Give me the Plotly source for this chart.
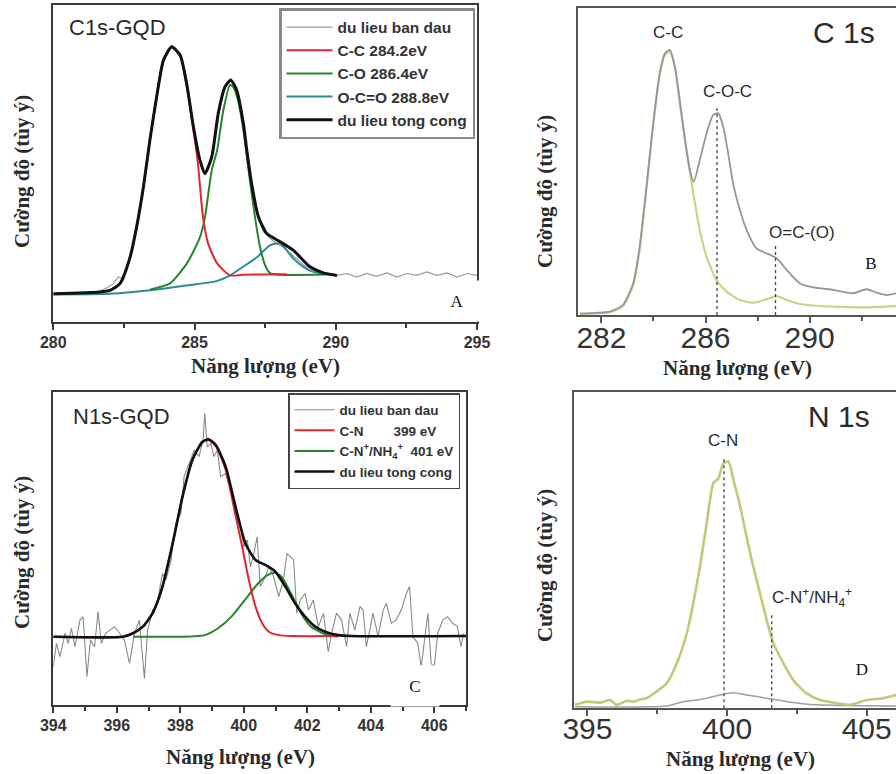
import plotly.graph_objects as go

# ---------------- DATA ----------------
# Panel A : C1s-GQD (arbitrary intensity 0-100)
a_raw_x = [280.00, 281.30, 281.65, 281.89, 282.13, 282.30, 282.48, 282.72, 282.95, 283.19, 283.42, 283.66, 283.90, 284.19, 284.49, 284.72, 284.96, 285.19, 285.37, 285.61, 285.84, 286.08, 286.28, 286.49, 286.73, 286.97, 287.20, 287.44, 287.79, 288.15, 288.50, 288.85, 289.33, 289.68, 290.04, 290.39, 290.75, 291.10, 291.45, 291.81, 292.16, 292.52, 292.87, 293.23, 293.58, 293.94, 294.29, 294.65, 295.00]
a_raw_y = [8.9, 8.9, 9.8, 10.7, 12.1, 14.2, 13.7, 20.5, 30.5, 43.0, 57.0, 71.5, 82.0, 87.2, 84.5, 75.0, 61.0, 51.5, 47.2, 52.5, 65.5, 74.6, 76.8, 73.5, 62.6, 46.5, 35.5, 28.5, 25.5, 23.5, 20.8, 18.0, 16.0, 15.2, 14.7, 15.3, 14.2, 15.3, 14.4, 15.5, 14.2, 15.3, 14.7, 15.8, 14.7, 15.5, 14.2, 15.3, 14.7]

a_cc_x = [282.01, 282.36, 282.72, 282.95, 283.19, 283.42, 283.66, 283.90, 284.19, 284.49, 284.72, 284.96, 285.12, 285.30, 285.48, 285.80, 286.26, 286.70, 287.50, 288.26]
a_cc_y = [10.0, 12.1, 20.5, 30.0, 42.6, 57.4, 71.1, 82.6, 86.6, 83.8, 74.5, 60.5, 50.0, 33.0, 24.8, 18.5, 14.7, 14.9, 15.0, 15.1]

a_co_x = [283.42, 284.13, 284.73, 285.19, 285.37, 285.61, 285.80, 286.02, 286.26, 286.38, 286.55, 286.73, 286.97, 287.14, 287.32, 287.50, 287.67, 288.03, 289.92]
a_co_y = [10.2, 12.2, 18.5, 26.7, 33.1, 47.9, 54.2, 66.8, 74.8, 74.0, 69.5, 60.5, 44.0, 33.1, 23.6, 17.9, 15.4, 14.9, 15.1]

a_oco_x = [280.00, 282.01, 283.42, 284.60, 285.78, 286.26, 286.73, 287.21, 287.67, 288.03, 288.50, 288.85, 289.21, 289.68, 290.04]
a_oco_y = [8.7, 8.9, 10.0, 11.4, 12.9, 14.7, 17.5, 20.4, 24.2, 24.8, 20.0, 17.4, 15.8, 15.1, 14.7]

a_sum_x = [280.00, 281.65, 282.01, 282.36, 282.72, 282.95, 283.19, 283.42, 283.66, 283.90, 284.19, 284.49, 284.72, 284.96, 285.19, 285.37, 285.61, 285.84, 286.08, 286.28, 286.49, 286.73, 286.85, 287.02, 287.26, 287.56, 288.03, 288.50, 289.09, 289.56, 290.04]
a_sum_y = [8.9, 9.5, 10.0, 12.1, 20.5, 30.0, 42.6, 57.4, 71.1, 82.6, 86.8, 84.2, 75.3, 61.6, 51.1, 46.8, 52.1, 65.8, 74.2, 76.3, 73.2, 62.6, 54.2, 43.7, 33.2, 27.9, 25.3, 22.6, 17.4, 15.5, 14.7]

a_ticks = [280, 285, 290, 295]

# Panel B : C 1s
b_gray_x = [281.17, 282.32, 282.83, 283.22, 283.47, 283.73, 283.99, 284.24, 284.44, 284.63, 284.82, 285.01, 285.21, 285.40, 285.55, 285.78, 286.04, 286.29, 286.49, 286.68, 286.87, 287.06, 287.32, 287.58, 287.96, 288.35, 288.73, 289.12, 289.63, 290.14, 290.91, 291.68, 292.19, 292.58, 292.96, 293.35]
b_gray_y = [0.5, 1.1, 3.3, 10.3, 22.3, 41.8, 62.5, 78.8, 85.3, 86.4, 81.0, 70.1, 57.1, 47.3, 43.5, 50.5, 59.2, 65.2, 65.8, 61.4, 52.7, 42.9, 34.2, 27.7, 21.7, 20.1, 18.5, 14.7, 10.3, 9.0, 8.2, 7.1, 8.4, 7.3, 6.5, 7.1]
b_green_x = [281.17, 282.32, 282.83, 283.22, 283.47, 283.73, 283.99, 284.24, 284.44, 284.63, 284.82, 285.01, 285.27, 285.53, 285.78, 286.04, 286.42, 286.81, 287.32, 287.83, 288.35, 288.73, 289.12, 289.63, 290.91, 292.19, 293.35]
b_green_y = [0.3, 0.9, 2.9, 9.8, 21.4, 41.0, 62.0, 78.3, 84.8, 85.9, 81.0, 69.0, 53.8, 39.7, 27.7, 19.0, 11.4, 7.6, 4.9, 4.0, 5.1, 6.2, 4.9, 3.6, 2.7, 2.5, 2.9]
b_marker_x = [286.44, 288.69]
b_marker_top = [68.5, 22.8]
b_ticks = [282, 286, 290]

# Panel C : N1s-GQD
c_raw_x = [394.00, 394.10, 394.21, 394.37, 394.47, 394.57, 394.68, 394.84, 394.94, 395.06, 395.17, 395.30, 395.41, 395.51, 395.65, 395.77, 395.93, 396.09, 396.24, 396.40, 396.56, 396.71, 396.87, 396.97, 397.13, 397.29, 397.44, 397.55, 397.71, 397.86, 398.02, 398.12, 398.28, 398.44, 398.59, 398.72, 398.77, 398.85, 398.96, 399.06, 399.17, 399.27, 399.43, 399.58, 399.69, 399.79, 399.90, 400.00, 400.11, 400.21, 400.32, 400.42, 400.52, 400.63, 400.79, 400.94, 401.10, 401.25, 401.36, 401.57, 401.67, 401.78, 401.93, 402.04, 402.19, 402.35, 402.51, 402.66, 402.77, 402.92, 403.08, 403.24, 403.34, 403.50, 403.66, 403.76, 403.86, 403.97, 404.07, 404.23, 404.39, 404.49, 404.65, 404.80, 404.96, 405.12, 405.22, 405.33, 405.48, 405.59, 405.69, 405.80, 405.90, 406.00, 406.11, 406.27, 406.42, 406.58, 406.73, 406.84, 406.92]
c_raw_y = [12.2, 19.7, 15.4, 22.9, 19.7, 24.5, 18.6, 27.1, 28.2, 9.0, 20.7, 18.6, 29.8, 19.7, 22.9, 23.9, 25.0, 22.9, 20.7, 13.3, 22.9, 27.1, 8.5, 23.9, 30.3, 33.5, 42.0, 39.9, 46.3, 58.0, 61.2, 72.9, 77.1, 81.4, 79.3, 84.6, 93.1, 82.4, 83.5, 79.3, 81.4, 72.9, 73.9, 68.6, 65.4, 59.0, 56.9, 50.5, 52.7, 44.1, 48.4, 53.7, 37.8, 39.9, 44.1, 41.0, 34.6, 39.9, 48.4, 46.3, 29.3, 33.5, 35.6, 30.3, 33.5, 25.0, 29.3, 17.0, 22.9, 29.3, 27.1, 18.6, 29.3, 23.9, 31.4, 30.3, 18.6, 23.9, 29.3, 21.8, 30.3, 32.4, 26.1, 27.1, 30.3, 35.6, 37.8, 21.8, 19.7, 12.2, 20.7, 29.3, 13.3, 12.2, 22.9, 27.1, 28.2, 26.1, 25.0, 18.6, 22.9]
c_cn_x = [394.00, 396.19, 396.51, 396.82, 397.13, 397.44, 397.76, 398.07, 398.38, 398.70, 398.89, 399.12, 399.43, 399.74, 399.95, 400.16, 400.37, 400.58, 400.79, 401.10, 401.50, 403.00]
c_cn_y = [21.8, 21.8, 22.9, 25.0, 29.3, 37.8, 51.6, 66.5, 78.2, 84.0, 84.6, 82.6, 75.0, 60.5, 50.5, 39.9, 31.4, 26.1, 23.4, 22.3, 22.0, 22.0]
c_cnh_x = [396.51, 398.12, 398.77, 399.19, 399.61, 400.03, 400.45, 400.76, 400.97, 401.18, 401.49, 401.80, 402.12, 402.53, 402.95]
c_cnh_y = [21.8, 21.8, 22.3, 24.5, 28.2, 33.5, 38.8, 41.5, 42.2, 41.0, 35.6, 29.3, 25.0, 22.7, 21.8]
c_sum_x = [394.00, 396.19, 396.51, 396.82, 397.13, 397.44, 397.76, 398.07, 398.38, 398.70, 398.89, 399.12, 399.43, 399.74, 400.05, 400.37, 400.68, 400.99, 401.31, 401.62, 401.93, 402.25, 402.56, 402.98, 403.39, 407.00]
c_sum_y = [21.8, 21.8, 22.9, 25.0, 29.3, 37.8, 51.6, 66.5, 78.2, 84.0, 84.8, 83.0, 76.1, 63.3, 51.6, 46.3, 44.7, 42.6, 37.8, 32.4, 28.2, 25.0, 23.4, 22.3, 22.0, 22.0]
c_ticks = [394, 396, 398, 400, 402, 404, 406]

# Panel D : N 1s
d_green_x = [394.56, 394.98, 395.45, 395.81, 396.05, 396.41, 396.65, 396.89, 397.12, 397.48, 397.84, 398.20, 398.56, 398.79, 399.03, 399.27, 399.51, 399.69, 399.87, 400.05, 400.23, 400.47, 400.70, 400.94, 401.18, 401.42, 401.66, 402.02, 402.37, 402.85, 403.33, 403.81, 404.40, 405.00, 405.60, 406.07]
d_green_y = [1.1, 2.1, 1.8, 2.6, 1.1, 2.4, 2.1, 2.8, 3.2, 5.3, 7.9, 14.2, 23.7, 33.2, 44.7, 58.4, 71.1, 72.6, 77.4, 77.9, 72.1, 63.7, 54.2, 44.7, 36.3, 27.9, 20.5, 14.2, 8.9, 4.7, 2.6, 1.8, 1.1, 2.6, 3.2, 4.2]
d_gray_x = [394.56, 397.84, 398.44, 399.03, 399.75, 400.23, 400.70, 401.42, 402.14, 403.21, 406.07]
d_gray_y = [0.5, 0.7, 2.1, 2.8, 4.2, 4.9, 4.2, 3.2, 2.1, 1.1, 0.7]
d_marker_x = [399.89, 401.60]
d_marker_top = [79.5, 29.5]
d_ticks = [395, 400, 405]

# ---------------- FIGURE ----------------
W, H = 896, 774
def fx(p):
    return p / W
def fy(p):
    return 1 - p / H

SANS = "Liberation Sans, Arial, sans-serif"
SERIF = "Liberation Serif, Times New Roman, serif"

fig = go.Figure()

def line(x, y, color, width, xa, ya, name=None, legend=None, rank=None, smooth=True, dash=None):
    fig.add_trace(go.Scatter(
        x=x, y=y, mode="lines", xaxis=xa, yaxis=ya,
        line=dict(color=color, width=width, shape="spline" if smooth else "linear",
                  smoothing=0.6 if smooth else None, dash=dash),
        name=name, showlegend=name is not None, legend=legend,
        legendrank=rank if rank is not None else 1000, hoverinfo="skip"))

# A
line(a_raw_x, a_raw_y, "#9a9a9a", 1.2, "x", "y", "du lieu ban dau", "legend", 1, smooth=False)
line(a_oco_x, a_oco_y, "#2e8c98", 2, "x", "y", "O-C=O 288.8eV", "legend", 4)
line(a_co_x, a_co_y, "#23862a", 2, "x", "y", "C-O 286.4eV", "legend", 3)
line(a_cc_x, a_cc_y, "#e3262e", 2, "x", "y", "C-C 284.2eV", "legend", 2)
line(a_sum_x, a_sum_y, "#111111", 3, "x", "y", "du lieu tong cong", "legend", 5)

# B
line(b_green_x, b_green_y, "#c6d588", 2.2, "x2", "y2")
line(b_gray_x, b_gray_y, "#9b939b", 1.8, "x2", "y2")
for xv, top in zip(b_marker_x, b_marker_top):
    line([xv, xv], [0, top], "#444444", 1.3, "x2", "y2", smooth=False, dash="dot")

# C
line(c_raw_x, c_raw_y, "#8a8a8a", 1.1, "x3", "y3", "du lieu ban dau", "legend2", 1, smooth=False)
line(c_cnh_x, c_cnh_y, "#23862a", 2, "x3", "y3", "C-N<sup>+</sup>/NH<sub>4</sub><sup>+</sup>\u00a0 401 eV", "legend2", 3)
line(c_cn_x, c_cn_y, "#e3262e", 2, "x3", "y3", "C-N\u00a0\u00a0\u00a0\u00a0\u00a0\u00a0\u00a0 399 eV", "legend2", 2)
line(c_sum_x, c_sum_y, "#111111", 2.6, "x3", "y3", "du lieu tong cong", "legend2", 4)

# D
line(d_gray_x, d_gray_y, "#a39ca3", 1.5, "x4", "y4")
line(d_green_x, d_green_y, "#bccb78", 2.6, "x4", "y4")
for xv, top in zip(d_marker_x, d_marker_top):
    line([xv, xv], [0, top], "#444444", 1.3, "x4", "y4", smooth=False, dash="dot")

frameA = "#3a3a3a"
frameB = "#555555"

def xax(domain, rng, ticks, minor_dtick, big, color, standoff=0):
    d = dict(domain=domain, range=rng, tickmode="array", tickvals=ticks,
             ticks="outside", ticklen=6, tickwidth=2, tickcolor=color,
             showline=True, linecolor=color, linewidth=2.2, mirror=True,
             showgrid=False, zeroline=False, ticklabelstandoff=standoff,
             minor=dict(tickmode="linear", dtick=minor_dtick, tick0=ticks[0], ticks="outside",
                        ticklen=4, tickwidth=1.5, tickcolor=color, showgrid=False))
    if big:
        d["tickfont"] = dict(family=SANS, size=30, color="#333333")
    else:
        d["tickfont"] = dict(family=SANS, size=16, color="#333333", weight="bold")
    return d

def yax(domain, color, mirror):
    return dict(domain=domain, range=[0, 100], showticklabels=False, ticks="",
                showline=True, linecolor=color, linewidth=2.2, mirror=mirror,
                showgrid=False, zeroline=False, fixedrange=True)

fig.update_layout(
    width=W, height=H, margin=dict(l=0, r=0, t=0, b=0),
    paper_bgcolor="white", plot_bgcolor="white", template="none",
    xaxis=xax([fx(53.3), fx(477)], [280, 295], a_ticks, 2.5, False, frameA, -1),
    yaxis={**yax([fy(322), fy(5)], frameA, True), "anchor": "x"},
    xaxis2={**xax([fx(578), 1.0], [281.10, 293.32], b_ticks, 2, True, frameB, -11), "anchor": "y2"},
    yaxis2={**yax([fy(315), fy(8.3)], frameB, False), "anchor": "x2"},
    xaxis3={**xax([fx(53.3), fx(466)], [394, 407], c_ticks, 1, False, frameA, -1), "anchor": "y3"},
    yaxis3={**yax([fy(705), fy(391.7)], frameA, True), "anchor": "x3"},
    xaxis4={**xax([fx(574), 1.0], [394.52, 406.05], d_ticks, 2.5, True, frameB, -13), "anchor": "y4"},
    yaxis4={**yax([fy(708.3), fy(391.7)], frameB, False), "anchor": "x4"},
    legend=dict(x=fx(279), y=fy(8), xanchor="left", yanchor="top",
                bgcolor="white", bordercolor="#8a8a8a", borderwidth=2.5,
                font=dict(family=SANS, size=15.5, color="#333333", weight="bold"),
                tracegroupgap=0, itemwidth=46),
    legend2=dict(x=fx(288), y=fy(393), xanchor="left", yanchor="top",
                 bgcolor="white", bordercolor="#444444", borderwidth=1.5,
                 font=dict(family=SANS, size=13.5, color="#333333", weight="bold"),
                 tracegroupgap=0, itemwidth=40),
)

ann = []
def text(xp, yp, t, size, family=SANS, bold=False, angle=0, color="#2a2a2a", **kw):
    ann.append(dict(x=fx(xp), y=fy(yp), xref="paper", yref="paper", text=t, showarrow=False,
                    textangle=angle, xanchor="center", yanchor="middle",
                    font=dict(family=family, size=size, color=color, weight="bold" if bold else "normal"), **kw))

# panel titles
text(117, 28, "C1s-GQD", 22)
text(121, 417, "N1s-GQD", 22)
text(844, 33, "C 1s", 30)
text(839, 417, "N 1s", 30)
# peak labels
text(668, 33, "C-C", 17)
text(727, 92, "C-O-C", 17)
text(802, 233, "O=C-(O)", 17)
text(723, 440, "C-N", 17)
text(812, 597, "C-N<sup>+</sup>/NH<sub>4</sub><sup>+</sup>", 17)
# axis titles
for (xp, yp) in [(265, 366), (737, 368), (240, 757), (740, 759)]:
    text(xp, yp, "Năng lượng (eV)", 21, SERIF, True)
for (xp, yp) in [(22, 172), (545, 192), (22, 553), (545, 566)]:
    text(xp, yp, "Cường độ (tùy ý)", 21, SERIF, True, angle=-90)
# panel letters in white boxes
for (xp, yp, t, w, h) in [(457, 301, "A", 48, 38), (871, 263, "B", 48, 38),
                          (415, 686, "C", 46, 38), (862, 669, "D", 44, 30)]:
    text(xp, yp, t, 17, SERIF, False, color="#111111", bgcolor="white", width=w, height=h)

fig.update_layout(annotations=ann)
fig.write_html("out.html")
